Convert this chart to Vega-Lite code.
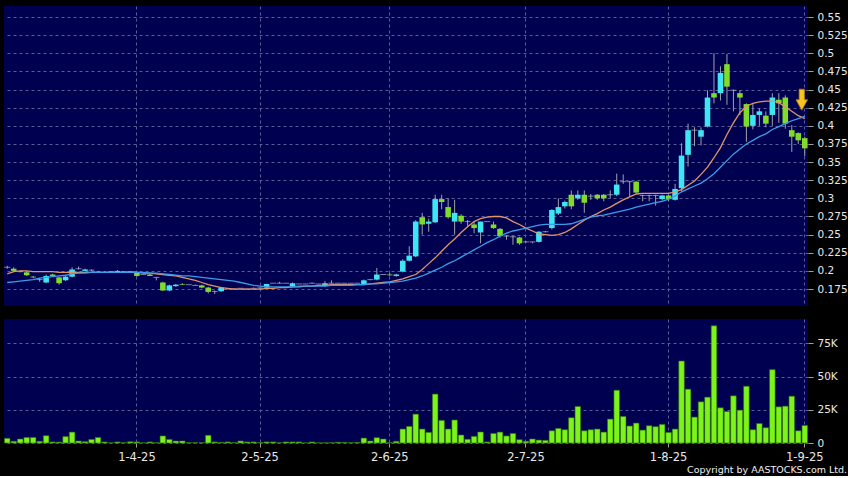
{
  "$schema": "https://vega.github.io/schema/vega-lite/v6.json",
  "background": "#000000",
  "padding": {"left": 4, "top": 6, "right": 0, "bottom": 2},
  "spacing": 13,
  "config": {
    "view": {"fill": "#000050", "stroke": null},
    "font": "DejaVu Sans",
    "axis": {"labelFont": "DejaVu Sans", "labelColor": "#e8e8e8", "labelFontSize": 10.5, "gridColor": "#5c5c94", "gridDash": [3, 3], "gridWidth": 1, "tickColor": "#a0a0a0", "domain": false, "title": null, "labelOverlap": false}
  },
  "title": {"text": "Copyright by AASTOCKS.com Ltd.", "orient": "bottom", "anchor": "end", "frame": "bounds", "fontSize": 9.5, "fontWeight": "normal", "color": "#f0f0f0", "font": "DejaVu Sans", "offset": 2},
  "datasets": {
    "px": [
      {"d":"2025-03-04","o":0.205,"h":0.207,"l":0.203,"c":0.205,"v":3500,"m1":0.196,"m2":0.184},
      {"d":"2025-03-05","o":0.203,"h":0.205,"l":0.199,"c":0.200,"v":1300,"m1":0.199,"m2":0.185},
      {"d":"2025-03-06","o":0.199,"h":0.200,"l":0.198,"c":0.199,"v":3000,"m1":0.200,"m2":0.186},
      {"d":"2025-03-07","o":0.198,"h":0.199,"l":0.193,"c":0.194,"v":4200,"m1":0.200,"m2":0.187},
      {"d":"2025-03-10","o":0.192,"h":0.193,"l":0.190,"c":0.191,"v":4200,"m1":0.199,"m2":0.188},
      {"d":"2025-03-11","o":0.188,"h":0.190,"l":0.185,"c":0.188,"v":1300,"m1":0.199,"m2":0.190},
      {"d":"2025-03-12","o":0.184,"h":0.195,"l":0.183,"c":0.193,"v":5500,"m1":0.199,"m2":0.191},
      {"d":"2025-03-13","o":0.195,"h":0.196,"l":0.192,"c":0.193,"v":800,"m1":0.199,"m2":0.192},
      {"d":"2025-03-14","o":0.191,"h":0.192,"l":0.181,"c":0.183,"v":700,"m1":0.198,"m2":0.193},
      {"d":"2025-03-17","o":0.187,"h":0.193,"l":0.186,"c":0.192,"v":4800,"m1":0.198,"m2":0.194},
      {"d":"2025-03-18","o":0.192,"h":0.205,"l":0.191,"c":0.202,"v":8200,"m1":0.198,"m2":0.196},
      {"d":"2025-03-19","o":0.203,"h":0.206,"l":0.202,"c":0.203,"v":1500,"m1":0.198,"m2":0.197},
      {"d":"2025-03-20","o":0.200,"h":0.203,"l":0.200,"c":0.202,"v":1000,"m1":0.198,"m2":0.197},
      {"d":"2025-03-21","o":0.201,"h":0.202,"l":0.200,"c":0.201,"v":2700,"m1":0.198,"m2":0.198},
      {"d":"2025-03-24","o":0.199,"h":0.200,"l":0.197,"c":0.198,"v":4200,"m1":0.198,"m2":0.198},
      {"d":"2025-03-25","o":0.198,"h":0.199,"l":0.198,"c":0.198,"v":800,"m1":0.198,"m2":0.198},
      {"d":"2025-03-26","o":0.199,"h":0.199,"l":0.199,"c":0.199,"v":200,"m1":0.198,"m2":0.198},
      {"d":"2025-03-27","o":0.198,"h":0.201,"l":0.198,"c":0.200,"v":800,"m1":0.198,"m2":0.198},
      {"d":"2025-03-28","o":0.199,"h":0.199,"l":0.199,"c":0.199,"v":300,"m1":0.198,"m2":0.198},
      {"d":"2025-03-31","o":0.199,"h":0.200,"l":0.199,"c":0.199,"v":1000,"m1":0.198,"m2":0.198},
      {"d":"2025-04-01","o":0.198,"h":0.199,"l":0.192,"c":0.193,"v":800,"m1":0.198,"m2":0.198},
      {"d":"2025-04-02","o":0.195,"h":0.195,"l":0.195,"c":0.195,"v":200,"m1":0.197,"m2":0.198},
      {"d":"2025-04-03","o":0.195,"h":0.196,"l":0.193,"c":0.193,"v":800,"m1":0.197,"m2":0.197},
      {"d":"2025-04-07","o":0.191,"h":0.191,"l":0.187,"c":0.191,"v":300,"m1":0.196,"m2":0.197},
      {"d":"2025-04-08","o":0.184,"h":0.185,"l":0.172,"c":0.173,"v":5300,"m1":0.195,"m2":0.196},
      {"d":"2025-04-09","o":0.173,"h":0.181,"l":0.172,"c":0.180,"v":2700,"m1":0.194,"m2":0.195},
      {"d":"2025-04-10","o":0.179,"h":0.182,"l":0.178,"c":0.181,"v":1500,"m1":0.193,"m2":0.194},
      {"d":"2025-04-11","o":0.182,"h":0.183,"l":0.181,"c":0.181,"v":1500,"m1":0.191,"m2":0.193},
      {"d":"2025-04-14","o":0.181,"h":0.181,"l":0.181,"c":0.181,"v":300,"m1":0.189,"m2":0.193},
      {"d":"2025-04-15","o":0.180,"h":0.181,"l":0.180,"c":0.180,"v":300,"m1":0.187,"m2":0.192},
      {"d":"2025-04-16","o":0.180,"h":0.181,"l":0.176,"c":0.177,"v":300,"m1":0.184,"m2":0.191},
      {"d":"2025-04-17","o":0.177,"h":0.178,"l":0.169,"c":0.171,"v":5800,"m1":0.181,"m2":0.190},
      {"d":"2025-04-22","o":0.172,"h":0.173,"l":0.168,"c":0.171,"v":800,"m1":0.179,"m2":0.189},
      {"d":"2025-04-23","o":0.172,"h":0.178,"l":0.171,"c":0.177,"v":500,"m1":0.177,"m2":0.188},
      {"d":"2025-04-24","o":0.175,"h":0.175,"l":0.175,"c":0.175,"v":800,"m1":0.176,"m2":0.187},
      {"d":"2025-04-25","o":0.175,"h":0.176,"l":0.175,"c":0.175,"v":300,"m1":0.175,"m2":0.186},
      {"d":"2025-04-28","o":0.176,"h":0.176,"l":0.176,"c":0.176,"v":1500,"m1":0.175,"m2":0.184},
      {"d":"2025-04-29","o":0.175,"h":0.175,"l":0.175,"c":0.175,"v":800,"m1":0.175,"m2":0.182},
      {"d":"2025-04-30","o":0.176,"h":0.177,"l":0.176,"c":0.176,"v":800,"m1":0.175,"m2":0.180},
      {"d":"2025-05-02","o":0.176,"h":0.177,"l":0.175,"c":0.177,"v":300,"m1":0.175,"m2":0.179},
      {"d":"2025-05-06","o":0.177,"h":0.182,"l":0.176,"c":0.182,"v":800,"m1":0.176,"m2":0.178},
      {"d":"2025-05-07","o":0.183,"h":0.183,"l":0.183,"c":0.183,"v":800,"m1":0.176,"m2":0.178},
      {"d":"2025-05-08","o":0.183,"h":0.185,"l":0.183,"c":0.183,"v":300,"m1":0.177,"m2":0.178},
      {"d":"2025-05-09","o":0.183,"h":0.183,"l":0.183,"c":0.183,"v":800,"m1":0.177,"m2":0.178},
      {"d":"2025-05-12","o":0.179,"h":0.184,"l":0.178,"c":0.183,"v":800,"m1":0.178,"m2":0.178},
      {"d":"2025-05-13","o":0.182,"h":0.182,"l":0.182,"c":0.182,"v":800,"m1":0.178,"m2":0.179},
      {"d":"2025-05-14","o":0.182,"h":0.182,"l":0.182,"c":0.182,"v":200,"m1":0.179,"m2":0.179},
      {"d":"2025-05-15","o":0.183,"h":0.184,"l":0.183,"c":0.183,"v":800,"m1":0.179,"m2":0.179},
      {"d":"2025-05-16","o":0.182,"h":0.182,"l":0.182,"c":0.182,"v":200,"m1":0.180,"m2":0.179},
      {"d":"2025-05-19","o":0.179,"h":0.186,"l":0.178,"c":0.183,"v":200,"m1":0.180,"m2":0.179},
      {"d":"2025-05-20","o":0.183,"h":0.187,"l":0.183,"c":0.183,"v":300,"m1":0.181,"m2":0.180},
      {"d":"2025-05-21","o":0.183,"h":0.183,"l":0.183,"c":0.183,"v":600,"m1":0.181,"m2":0.180},
      {"d":"2025-05-22","o":0.183,"h":0.183,"l":0.183,"c":0.183,"v":500,"m1":0.181,"m2":0.180},
      {"d":"2025-05-23","o":0.183,"h":0.183,"l":0.183,"c":0.183,"v":300,"m1":0.181,"m2":0.180},
      {"d":"2025-05-26","o":0.183,"h":0.183,"l":0.183,"c":0.183,"v":500,"m1":0.181,"m2":0.181},
      {"d":"2025-05-27","o":0.182,"h":0.188,"l":0.181,"c":0.187,"v":3700,"m1":0.181,"m2":0.181},
      {"d":"2025-05-28","o":0.188,"h":0.188,"l":0.187,"c":0.188,"v":1500,"m1":0.182,"m2":0.182},
      {"d":"2025-05-29","o":0.188,"h":0.204,"l":0.187,"c":0.195,"v":4000,"m1":0.183,"m2":0.182},
      {"d":"2025-05-30","o":0.195,"h":0.195,"l":0.195,"c":0.195,"v":3000,"m1":0.184,"m2":0.183},
      {"d":"2025-06-02","o":0.195,"h":0.197,"l":0.193,"c":0.194,"v":300,"m1":0.185,"m2":0.184},
      {"d":"2025-06-03","o":0.193,"h":0.196,"l":0.192,"c":0.195,"v":1300,"m1":0.187,"m2":0.185},
      {"d":"2025-06-04","o":0.199,"h":0.216,"l":0.198,"c":0.214,"v":10500,"m1":0.189,"m2":0.186},
      {"d":"2025-06-05","o":0.214,"h":0.234,"l":0.213,"c":0.221,"v":12500,"m1":0.192,"m2":0.188},
      {"d":"2025-06-06","o":0.220,"h":0.270,"l":0.219,"c":0.268,"v":21700,"m1":0.195,"m2":0.190},
      {"d":"2025-06-09","o":0.274,"h":0.280,"l":0.250,"c":0.264,"v":10500,"m1":0.202,"m2":0.193},
      {"d":"2025-06-10","o":0.265,"h":0.272,"l":0.254,"c":0.268,"v":8000,"m1":0.210,"m2":0.197},
      {"d":"2025-06-11","o":0.267,"h":0.305,"l":0.266,"c":0.299,"v":36800,"m1":0.218,"m2":0.201},
      {"d":"2025-06-12","o":0.299,"h":0.305,"l":0.285,"c":0.295,"v":17000,"m1":0.227,"m2":0.205},
      {"d":"2025-06-13","o":0.288,"h":0.300,"l":0.272,"c":0.274,"v":10500,"m1":0.236,"m2":0.210},
      {"d":"2025-06-16","o":0.268,"h":0.298,"l":0.250,"c":0.280,"v":17300,"m1":0.244,"m2":0.214},
      {"d":"2025-06-17","o":0.276,"h":0.278,"l":0.265,"c":0.268,"v":6000,"m1":0.253,"m2":0.219},
      {"d":"2025-06-18","o":0.268,"h":0.270,"l":0.262,"c":0.268,"v":2800,"m1":0.261,"m2":0.224},
      {"d":"2025-06-19","o":0.264,"h":0.268,"l":0.252,"c":0.259,"v":5000,"m1":0.268,"m2":0.229},
      {"d":"2025-06-20","o":0.253,"h":0.268,"l":0.238,"c":0.268,"v":8300,"m1":0.272,"m2":0.234},
      {"d":"2025-06-23","o":0.268,"h":0.268,"l":0.268,"c":0.268,"v":800,"m1":0.274,"m2":0.239},
      {"d":"2025-06-24","o":0.264,"h":0.268,"l":0.258,"c":0.259,"v":7200,"m1":0.275,"m2":0.243},
      {"d":"2025-06-25","o":0.258,"h":0.259,"l":0.246,"c":0.248,"v":8200,"m1":0.275,"m2":0.248},
      {"d":"2025-06-26","o":0.248,"h":0.249,"l":0.243,"c":0.248,"v":5300,"m1":0.273,"m2":0.252},
      {"d":"2025-06-27","o":0.247,"h":0.248,"l":0.236,"c":0.247,"v":7200,"m1":0.268,"m2":0.255},
      {"d":"2025-06-30","o":0.246,"h":0.247,"l":0.236,"c":0.238,"v":2500,"m1":0.264,"m2":0.257},
      {"d":"2025-07-02","o":0.240,"h":0.241,"l":0.239,"c":0.240,"v":1300,"m1":0.259,"m2":0.259},
      {"d":"2025-07-03","o":0.240,"h":0.240,"l":0.238,"c":0.240,"v":3000,"m1":0.255,"m2":0.261},
      {"d":"2025-07-04","o":0.240,"h":0.255,"l":0.239,"c":0.254,"v":2200,"m1":0.251,"m2":0.263},
      {"d":"2025-07-07","o":0.254,"h":0.255,"l":0.253,"c":0.254,"v":2000,"m1":0.250,"m2":0.264},
      {"d":"2025-07-08","o":0.259,"h":0.285,"l":0.257,"c":0.284,"v":9200,"m1":0.249,"m2":0.264},
      {"d":"2025-07-09","o":0.279,"h":0.300,"l":0.277,"c":0.288,"v":11000,"m1":0.250,"m2":0.264},
      {"d":"2025-07-10","o":0.289,"h":0.297,"l":0.286,"c":0.295,"v":10000,"m1":0.253,"m2":0.264},
      {"d":"2025-07-11","o":0.305,"h":0.311,"l":0.285,"c":0.289,"v":19000,"m1":0.258,"m2":0.265},
      {"d":"2025-07-14","o":0.300,"h":0.311,"l":0.298,"c":0.305,"v":27500,"m1":0.264,"m2":0.268},
      {"d":"2025-07-15","o":0.305,"h":0.311,"l":0.280,"c":0.294,"v":9200,"m1":0.270,"m2":0.271},
      {"d":"2025-07-16","o":0.303,"h":0.306,"l":0.298,"c":0.303,"v":10000,"m1":0.275,"m2":0.274},
      {"d":"2025-07-17","o":0.305,"h":0.306,"l":0.298,"c":0.300,"v":10500,"m1":0.279,"m2":0.276},
      {"d":"2025-07-18","o":0.305,"h":0.306,"l":0.296,"c":0.300,"v":8200,"m1":0.284,"m2":0.277},
      {"d":"2025-07-21","o":0.305,"h":0.311,"l":0.300,"c":0.305,"v":18000,"m1":0.288,"m2":0.279},
      {"d":"2025-07-22","o":0.305,"h":0.334,"l":0.303,"c":0.319,"v":39700,"m1":0.293,"m2":0.281},
      {"d":"2025-07-23","o":0.323,"h":0.333,"l":0.320,"c":0.323,"v":20000,"m1":0.298,"m2":0.283},
      {"d":"2025-07-24","o":0.323,"h":0.324,"l":0.302,"c":0.323,"v":12800,"m1":0.302,"m2":0.285},
      {"d":"2025-07-25","o":0.323,"h":0.324,"l":0.307,"c":0.308,"v":15000,"m1":0.306,"m2":0.288},
      {"d":"2025-07-28","o":0.304,"h":0.305,"l":0.296,"c":0.304,"v":9700,"m1":0.307,"m2":0.290},
      {"d":"2025-07-29","o":0.304,"h":0.305,"l":0.296,"c":0.304,"v":13000,"m1":0.307,"m2":0.292},
      {"d":"2025-07-30","o":0.304,"h":0.305,"l":0.290,"c":0.304,"v":12300,"m1":0.307,"m2":0.294},
      {"d":"2025-07-31","o":0.299,"h":0.305,"l":0.297,"c":0.304,"v":14000,"m1":0.307,"m2":0.296},
      {"d":"2025-08-01","o":0.304,"h":0.305,"l":0.296,"c":0.299,"v":8000,"m1":0.307,"m2":0.299},
      {"d":"2025-08-04","o":0.298,"h":0.320,"l":0.297,"c":0.313,"v":10500,"m1":0.309,"m2":0.303},
      {"d":"2025-08-05","o":0.314,"h":0.376,"l":0.310,"c":0.359,"v":61700,"m1":0.312,"m2":0.309},
      {"d":"2025-08-06","o":0.360,"h":0.403,"l":0.344,"c":0.394,"v":40500,"m1":0.318,"m2":0.313},
      {"d":"2025-08-07","o":0.394,"h":0.398,"l":0.372,"c":0.394,"v":19500,"m1":0.324,"m2":0.317},
      {"d":"2025-08-08","o":0.385,"h":0.398,"l":0.373,"c":0.394,"v":31000,"m1":0.333,"m2":0.321},
      {"d":"2025-08-11","o":0.399,"h":0.449,"l":0.398,"c":0.439,"v":34500,"m1":0.343,"m2":0.327},
      {"d":"2025-08-12","o":0.445,"h":0.500,"l":0.431,"c":0.439,"v":88200,"m1":0.356,"m2":0.334},
      {"d":"2025-08-13","o":0.445,"h":0.482,"l":0.435,"c":0.473,"v":26500,"m1":0.370,"m2":0.343},
      {"d":"2025-08-14","o":0.485,"h":0.499,"l":0.429,"c":0.454,"v":23700,"m1":0.388,"m2":0.352},
      {"d":"2025-08-15","o":0.449,"h":0.450,"l":0.420,"c":0.449,"v":35500,"m1":0.404,"m2":0.361},
      {"d":"2025-08-18","o":0.445,"h":0.449,"l":0.415,"c":0.439,"v":24700,"m1":0.418,"m2":0.368},
      {"d":"2025-08-19","o":0.430,"h":0.431,"l":0.378,"c":0.399,"v":42700,"m1":0.427,"m2":0.375},
      {"d":"2025-08-20","o":0.400,"h":0.430,"l":0.395,"c":0.415,"v":10000,"m1":0.431,"m2":0.380},
      {"d":"2025-08-21","o":0.415,"h":0.424,"l":0.400,"c":0.420,"v":14700,"m1":0.433,"m2":0.385},
      {"d":"2025-08-22","o":0.414,"h":0.420,"l":0.398,"c":0.403,"v":11500,"m1":0.434,"m2":0.389},
      {"d":"2025-08-25","o":0.415,"h":0.445,"l":0.400,"c":0.439,"v":55200,"m1":0.434,"m2":0.395},
      {"d":"2025-08-26","o":0.436,"h":0.445,"l":0.404,"c":0.431,"v":27200,"m1":0.432,"m2":0.399},
      {"d":"2025-08-27","o":0.439,"h":0.442,"l":0.396,"c":0.403,"v":27700,"m1":0.426,"m2":0.403},
      {"d":"2025-08-28","o":0.394,"h":0.401,"l":0.364,"c":0.385,"v":35200,"m1":0.420,"m2":0.407},
      {"d":"2025-08-29","o":0.390,"h":0.391,"l":0.375,"c":0.380,"v":9200,"m1":0.414,"m2":0.410},
      {"d":"2025-09-01","o":0.383,"h":0.385,"l":0.358,"c":0.369,"v":13200,"m1":0.410,"m2":0.413}
    ],
    "arrow": [{"d": "2025-09-01", "p": 0.436}]
  },
  "vconcat": [
    {
      "width": 804,
      "height": 300,
      "data": {"name": "px"},
      "encoding": {
        "x": {"field": "d", "type": "ordinal",
              "scale": {"type": "band", "paddingInner": 0, "paddingOuter": 0},
              "axis": {"values": ["2025-04-01","2025-05-02","2025-06-02","2025-07-02","2025-08-01","2025-09-01"], "labels": false, "ticks": false, "grid": true, "bandPosition": 0.5}}
      },
      "layer": [
        {
          "mark": {"type": "rule", "color": "#a0a0a8", "strokeWidth": 1},
          "encoding": {
            "y": {"field": "l", "type": "quantitative",
                  "scale": {"domain": [0.1516, 0.5652], "nice": false, "zero": false},
                  "axis": {"orient": "right", "values": [0.175,0.2,0.225,0.25,0.275,0.3,0.325,0.35,0.375,0.4,0.425,0.45,0.475,0.5,0.525,0.55], "tickCount": 30, "labelExpr": "format(datum.value, '.3~f')", "grid": true, "tickSize": 5, "labelPadding": 4, "labelOverlap": false}},
            "y2": {"field": "h"}
          }
        },
        {
          "mark": {"type": "bar", "width": {"band": 0.86}},
          "encoding": {
            "y": {"field": "o", "type": "quantitative"},
            "y2": {"field": "c"},
            "color": {"condition": {"test": "datum.c > datum.o", "value": "#3ee6f4"}, "value": "#80dc28"}
          }
        },
        {
          "transform": [{"filter": "datum.o == datum.c"}],
          "mark": {"type": "tick", "orient": "horizontal", "thickness": 1, "size": 6, "color": "#b4b4c8"},
          "encoding": {"y": {"field": "c", "type": "quantitative"}}
        },
        {
          "mark": {"type": "line", "color": "#e39468", "strokeWidth": 1.3},
          "encoding": {"y": {"field": "m1", "type": "quantitative"}}
        },
        {
          "mark": {"type": "line", "color": "#3d9ce8", "strokeWidth": 1.3},
          "encoding": {"y": {"field": "m2", "type": "quantitative"}}
        },
        {
          "data": {"name": "arrow"},
          "mark": {"type": "point", "filled": true, "shape": "M-0.25,-1L0.25,-1L0.25,0L0.55,0L0,1L-0.55,0L-0.25,0Z", "size": 441, "fill": "#f7c520", "stroke": "#b07a00", "strokeWidth": 0.8, "opacity": 1, "xOffset": -3},
          "encoding": {"y": {"field": "p", "type": "quantitative"}}
        }
      ]
    },
    {
      "width": 804,
      "height": 124,
      "data": {"name": "px"},
      "mark": {"type": "bar", "width": {"band": 0.86}, "fill": "#7cf41c", "stroke": "#2f6a0c", "strokeWidth": 0.6},
      "encoding": {
        "x": {"field": "d", "type": "ordinal",
              "scale": {"type": "band", "paddingInner": 0, "paddingOuter": 0},
              "axis": {"values": ["2025-04-01","2025-05-02","2025-06-02","2025-07-02","2025-08-01","2025-09-01"], "grid": true, "bandPosition": 0.5, "tickSize": 4, "labelPadding": 4, "labelAngle": 0, "labelFontSize": 11.5, "labelExpr": "toNumber(slice(datum.value, 8, 10)) + '-' + toNumber(slice(datum.value, 5, 7)) + '-' + slice(datum.value, 2, 4)"}},
        "y": {"field": "v", "type": "quantitative",
              "scale": {"domain": [0, 93300], "nice": false},
              "axis": {"orient": "right", "values": [0, 25000, 50000, 75000], "tickCount": 10, "grid": true, "tickSize": 5, "labelPadding": 4, "labelExpr": "datum.value == 0 ? '0' : format(datum.value / 1000, 'd') + 'K'"}}
      }
    }
  ]
}
